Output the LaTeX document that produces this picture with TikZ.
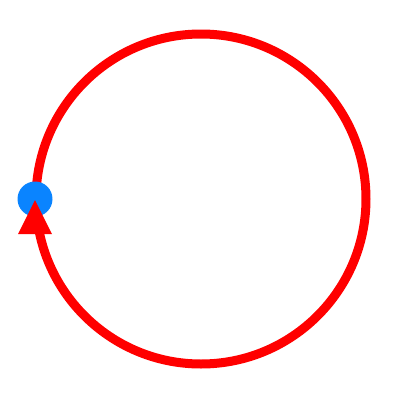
\documentclass[tikz,border=0pt]{standalone}
\begin{document}
\begin{tikzpicture}[x=1pt,y=-1pt]
\useasboundingbox (0,0) rectangle (400,400);
\definecolor{dotblue}{RGB}{10,132,255}
\tikzset{ring/.style={draw=red,line width=9pt}}
\node[circle,ring,minimum size=330pt,inner sep=0pt] (c) at (201,199) {};
\node[circle,fill=dotblue,minimum size=35pt,inner sep=0pt] (d) at (35,199) {};
\coordinate (apex) at (35,200);
\fill[red] (apex) -- (52,234) -- (18,234) -- cycle;
\end{tikzpicture}
\end{document}
